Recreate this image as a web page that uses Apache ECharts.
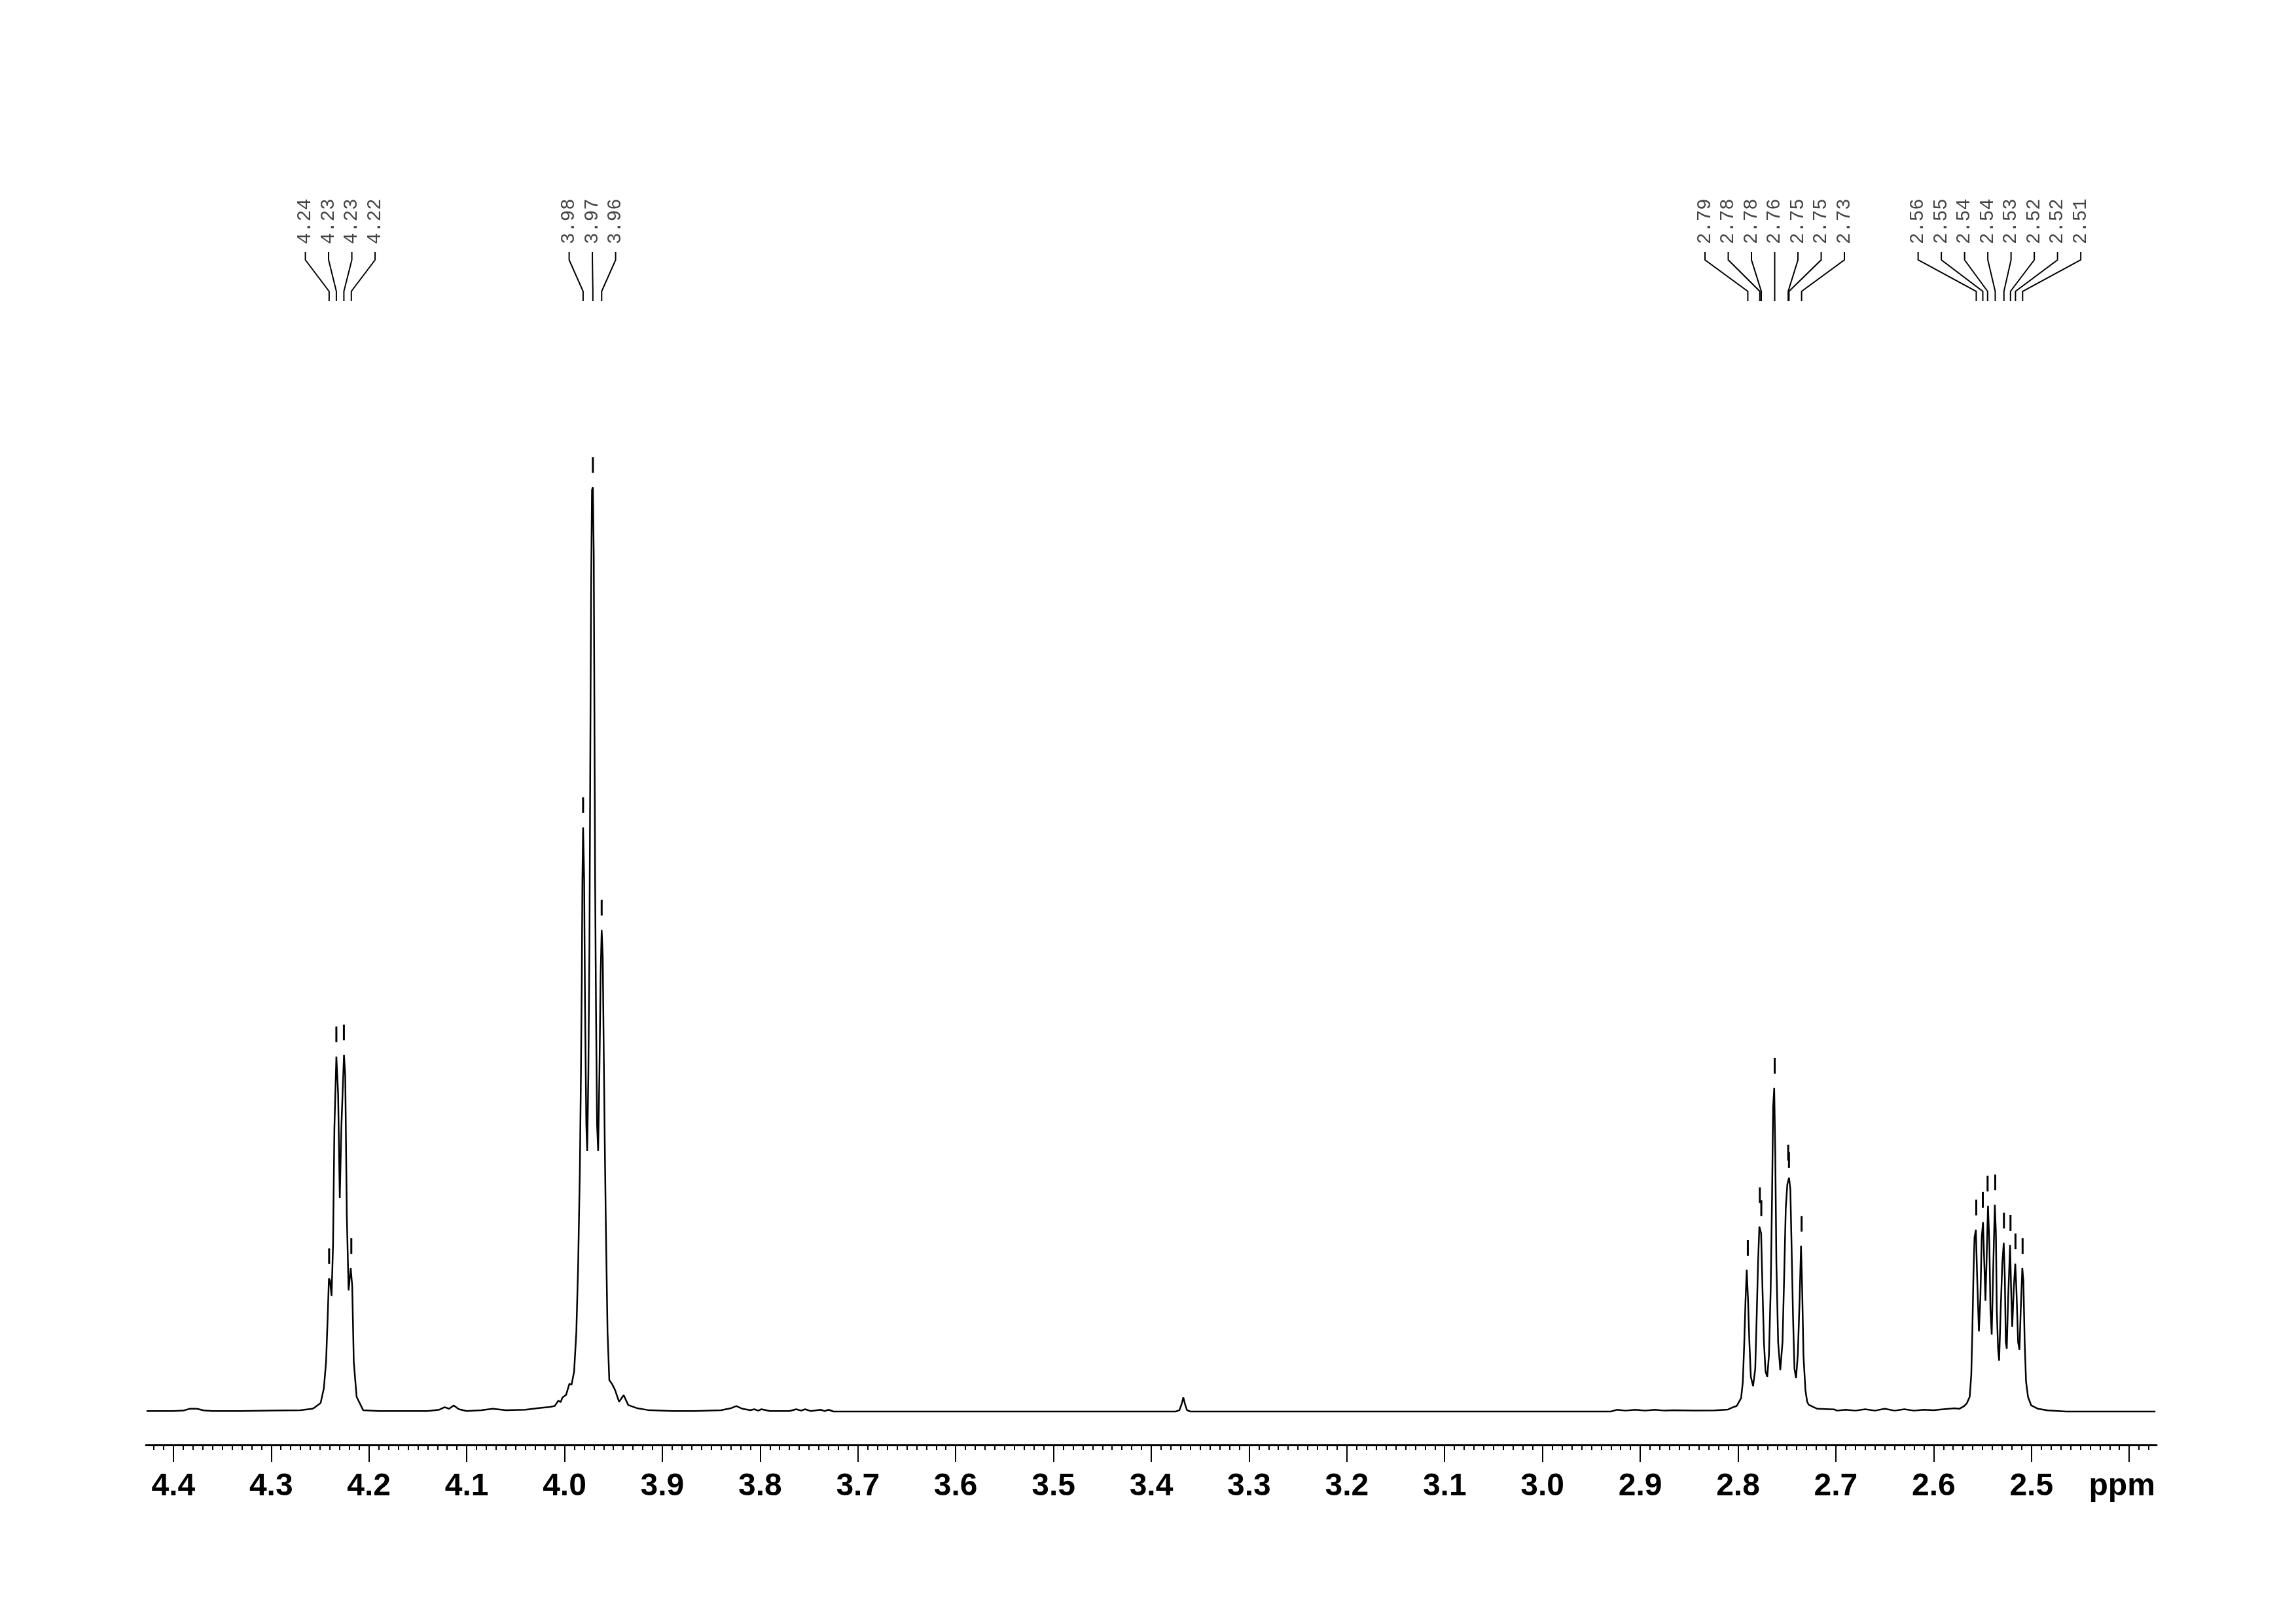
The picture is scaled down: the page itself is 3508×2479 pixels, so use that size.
<!DOCTYPE html>
<html>
<head>
<meta charset="utf-8">
<title>1H NMR spectrum</title>
<script src="https://cdn.jsdelivr.net/npm/echarts@6/dist/echarts.min.js"></script>
<style>
  html, body { margin: 0; padding: 0; background: #ffffff; }
  #chart { width: 3508px; height: 2479px; }
</style>
</head>
<body>
<div id="chart"></div>
<script>
// ---------------- DATA (chemical shift in ppm, intensity in % of tallest line) ----------------
const baselineLeft = [
  [4.4274,0.05],[4.400,0.05],[4.390,0.10],[4.383,0.30],[4.376,0.30],[4.369,0.12],[4.360,0.05],
  [4.330,0.05],[4.300,0.10],[4.270,0.15],[4.258,0.30]
];
const multiplet424 = [
  [4.2561,0.40],[4.2494,0.92],[4.2461,2.5],[4.2438,5.4],[4.2422,10.1],[4.2409,14.4],[4.2398,14.2],
  [4.2382,12.5],[4.2367,18.0],[4.2353,30.7],[4.2333,38.4],[4.2315,34.4],[4.2298,23.1],[4.2282,30.7],
  [4.2255,38.6],[4.2242,36.3],[4.2226,21.2],[4.2208,13.1],[4.2186,15.5],[4.2171,13.6],[4.2155,5.4],
  [4.2126,1.6],[4.2059,0.15]
];
const baselineMid1 = [
  [4.190,0.05],[4.160,0.05],[4.140,0.05],[4.128,0.20],[4.1226,0.47],[4.118,0.30],[4.1133,0.66],
  [4.108,0.25],[4.100,0.05],[4.085,0.15],[4.0734,0.30],[4.060,0.15],[4.040,0.20],[4.028,0.35],[4.015,0.50]
];
const multiplet397 = [
  [4.0100,0.6],[4.0062,1.2],[4.0040,1.0],[4.0022,1.5],[3.9984,1.8],[3.9950,3.0],[3.9928,2.9],
  [3.9902,4.3],[3.9879,8.6],[3.9861,15.6],[3.9843,26.1],[3.9832,36.6],[3.9823,47.1],[3.9817,57.6],
  [3.9810,63.2],[3.9799,57.6],[3.9790,43.6],[3.9777,31.0],[3.9768,28.2],[3.9756,36.6],[3.9745,50.7],
  [3.9736,71.6],[3.9728,89.2],[3.9719,99.7],[3.9710,100],[3.9701,92.7],[3.9694,75.2],[3.9687,57.6],
  [3.9678,43.6],[3.9667,31.0],[3.9656,28.2],[3.9643,36.6],[3.9631,47.1],[3.9620,52.1],[3.9609,49.2],
  [3.9600,40.2],[3.9589,29.6],[3.9576,19.2],[3.9560,8.6],[3.9542,3.4],[3.9512,2.95],[3.9482,2.3],
  [3.9442,1.06],[3.9395,1.77],[3.9348,0.70],[3.9254,0.35],[3.9150,0.17]
];
const baselineMid2 = [
  [3.8900,0.05],[3.8665,0.05],[3.8400,0.15],[3.8300,0.35],[3.8244,0.59],[3.8180,0.30],[3.8100,0.15],
  [3.8060,0.25],[3.8020,0.10],[3.7986,0.25],[3.7900,0.05],[3.7700,0.05],[3.7630,0.25],[3.7580,0.10],
  [3.7540,0.25],[3.7480,0.05],[3.7380,0.20],[3.7340,0.05],[3.7300,0.20],[3.7250,0.0],[3.6000,0.0],
  [3.4500,0.0],[3.3750,0.0],[3.3712,0.15],[3.3690,0.8],[3.3672,1.53],[3.3655,0.8],[3.3635,0.15],
  [3.3600,0.0],[3.2000,0.0],[3.0000,0.0],[2.9300,0.0],[2.9240,0.19],[2.9150,0.10],[2.9050,0.20],
  [2.8950,0.10],[2.8850,0.20],[2.8750,0.10],[2.8660,0.15],[2.8450,0.10],[2.8237,0.12],[2.8103,0.22]
];
const multiplet276 = [
  [2.8043,0.5],[2.8014,0.6],[2.7969,1.45],[2.7951,3.19],[2.7936,7.52],[2.7924,11.86],[2.7911,15.33],
  [2.7898,12.15],[2.7884,7.52],[2.7869,3.76],[2.7846,2.75],[2.7824,4.63],[2.7809,10.41],[2.7795,16.2],
  [2.7782,20.0],[2.7764,19.3],[2.7750,13.3],[2.7735,7.52],[2.7719,4.34],[2.7701,3.76],[2.7684,6.08],
  [2.7666,13.3],[2.7652,23.42],[2.7641,32.96],[2.7630,35.0],[2.7619,27.75],[2.7608,16.2],[2.7590,7.52],
  [2.7568,4.48],[2.7545,7.52],[2.7528,14.75],[2.7512,21.98],[2.7496,24.58],[2.7478,25.3],[2.7465,24.0],
  [2.7452,17.64],[2.7438,10.41],[2.7423,4.63],[2.7407,3.62],[2.7389,6.08],[2.7371,11.86],[2.7356,17.93],
  [2.7344,13.3],[2.7331,6.08],[2.7311,2.32],[2.7293,1.06],[2.7277,0.73],[2.7226,0.47],[2.7188,0.30]
];
const baselineMid3 = [
  [2.7019,0.24],[2.6988,0.10],[2.6900,0.20],[2.6800,0.10],[2.6700,0.25],[2.6600,0.10],[2.6500,0.30],
  [2.6400,0.10],[2.6300,0.25],[2.6200,0.10],[2.6100,0.20],[2.6000,0.15],[2.5900,0.25],[2.5787,0.35]
];
const multiplet253 = [
  [2.5738,0.30],[2.5687,0.60],[2.5660,0.90],[2.5631,1.6],[2.5615,3.97],[2.5604,8.69],[2.5593,14.59],
  [2.5582,18.84],[2.5568,19.66],[2.5555,14.59],[2.5537,8.69],[2.5522,12.23],[2.5508,18.84],[2.5495,20.49],
  [2.5481,15.77],[2.5470,11.99],[2.5457,16.95],[2.5444,22.26],[2.5430,18.13],[2.5419,11.05],[2.5406,8.33],
  [2.5390,15.77],[2.5374,22.38],[2.5363,19.31],[2.5354,11.05],[2.5341,6.8],[2.5330,5.5],[2.5314,11.05],
  [2.5298,16.0],[2.5283,18.25],[2.5272,14.59],[2.5262,7.51],[2.5252,6.8],[2.5238,12.23],[2.5218,18.01],
  [2.5208,13.41],[2.5196,9.16],[2.5180,13.41],[2.5165,16.01],[2.5154,13.41],[2.5136,7.51],[2.5122,6.68],
  [2.5109,11.05],[2.5093,15.53],[2.5082,14.12],[2.5069,7.51],[2.5055,3.26],[2.5035,1.6],[2.5002,0.66],
  [2.4935,0.31],[2.4833,0.12]
];
const baselineRight = [
  [2.4645,0.0],[2.4489,0.0],[2.4000,0.0],[2.3732,0.0]
];

// picked peaks
const peakLabels = ['4.24','4.23','4.23','4.22','3.98','3.97','3.96',
  '2.79','2.78','2.78','2.76','2.75','2.75','2.73',
  '2.56','2.55','2.54','2.54','2.53','2.52','2.52','2.51'];
const peakPpm = [4.2407,4.2333,4.2256,4.2180,3.9810,3.9710,3.9620,
  2.7900,2.7777,2.7762,2.7625,2.7487,2.7479,2.7350,
  2.5564,2.5497,2.5448,2.5370,2.5281,2.5214,2.5163,2.5090];
const peakHeight = [14.4,38.4,38.6,15.5,63.2,100,52.1,
  15.3,21.0,19.6,35.0,25.6,24.8,17.9,
  19.66,20.49,22.26,22.38,18.25,18.0,16.0,15.5];
const peakGroup = [0,0,0,0,1,1,1,2,2,2,2,2,2,2,3,3,3,3,3,3,3,3];

// axis ticks
const majorTicks = [4.4,4.3,4.2,4.1,4.0,3.9,3.8,3.7,3.6,3.5,3.4,3.3,3.2,3.1,3.0,2.9,2.8,2.7,2.6,2.5,2.4];
const tickLabels = ['4.4','4.3','4.2','4.1','4.0','3.9','3.8','3.7','3.6','3.5','3.4','3.3','3.2','3.1','3.0','2.9','2.8','2.7','2.6','2.5','ppm'];

// ---------------- BUILD ----------------
const spectrum = [].concat(baselineLeft, multiplet424, baselineMid1, multiplet397,
  baselineMid2, multiplet276, baselineMid3, multiplet253, baselineRight);

const minorTicks = [];
for (let k = 442; k >= 238; k--) {
  if (k % 10 !== 0) minorTicks.push(k / 100);
}

// group info for label layout
const groupInfo = {};
peakGroup.forEach((g, i) => {
  if (!groupInfo[g]) groupInfo[g] = { idx: [] };
  groupInfo[g].idx.push(i);
});

const LABEL_SPACING = 35.5;

const chart = echarts.init(document.getElementById('chart'), null, { renderer: 'canvas' });

const option = {
  backgroundColor: '#ffffff',
  animation: false,
  grid: { left: 223, right: 213, top: 603, bottom: 272, containLabel: false },
  xAxis: [
    {
      type: 'value', inverse: true, min: 2.372, max: 4.428, position: 'bottom',
      axisLine: { show: true, onZero: false, lineStyle: { color: '#000', width: 3 } },
      axisTick: { show: true, customValues: majorTicks, length: 26, lineStyle: { color: '#000', width: 2 } },
      axisLabel: {
        show: true, customValues: majorTicks, margin: 40,
        fontSize: 48, fontWeight: 'bold', fontFamily: 'Liberation Sans, Arial, sans-serif', color: '#000',
        formatter: function (v) {
          const i = majorTicks.findIndex(t => Math.abs(t - v) < 1e-6);
          if (i < 0) return '';
          const s = tickLabels[i];
          return /[a-z]/.test(s) ? '{u|' + s + '}' : s;
        },
        rich: {
          u: {
            fontSize: 48, fontWeight: 'bold', fontFamily: 'Liberation Sans, Arial, sans-serif',
            color: '#000', padding: [0, 22, 0, 0]
          }
        }
      },
      splitLine: { show: false }
    },
    {
      type: 'value', inverse: true, min: 2.372, max: 4.428, position: 'bottom', offset: 0,
      axisLine: { show: false, onZero: false },
      axisTick: { show: true, customValues: minorTicks, length: 8, lineStyle: { color: '#000', width: 2 } },
      axisLabel: { show: false },
      splitLine: { show: false }
    }
  ],
  yAxis: { type: 'value', min: -3.61, max: 110, show: false, splitLine: { show: false } },
  series: [
    {
      type: 'line',
      xAxisIndex: 0,
      data: spectrum,
      showSymbol: false,
      symbol: 'none',
      smooth: false,
      sampling: null,
      lineStyle: { color: '#000', width: 2.5 },
      clip: false,
      z: 2
    },
    {
      type: 'custom',
      xAxisIndex: 0,
      clip: false,
      data: peakPpm.map((p, i) => [p, peakHeight[i]]),
      encode: { x: 0, y: 1 },
      renderItem: function (params, api) {
        const i = params.dataIndex;
        const g = groupInfo[peakGroup[i]].idx;
        const firstX = api.coord([peakPpm[g[0]], 0])[0];
        const lastX = api.coord([peakPpm[g[g.length - 1]], 0])[0];
        const center = (firstX + lastX) / 2;
        const rank = g.indexOf(i);
        const lx = center + (rank - (g.length - 1) / 2) * LABEL_SPACING;
        const pt = api.coord([api.value(0), api.value(1)]);
        const px = pt[0];
        return {
          type: 'group',
          children: [
            {
              type: 'text',
              x: lx, y: 373,
              rotation: Math.PI / 2,
              style: {
                text: peakLabels[i],
                x: 0, y: 0,
                align: 'left', verticalAlign: 'middle',
                fontSize: 29, fontFamily: 'Liberation Mono, DejaVu Sans Mono, monospace',
                fill: '#444'
              }
            },
            {
              type: 'polyline',
              shape: { points: [[lx, 385], [lx, 397], [px, 445], [px, 460]] },
              style: { stroke: '#000', lineWidth: 2, fill: null }
            },
            {
              type: 'line',
              shape: { x1: px, y1: pt[1] - 46, x2: px, y2: pt[1] - 22 },
              style: { stroke: '#000', lineWidth: 3 }
            }
          ]
        };
      },
      z: 3
    }
  ]
};

chart.setOption(option);
</script>
</body>
</html>
